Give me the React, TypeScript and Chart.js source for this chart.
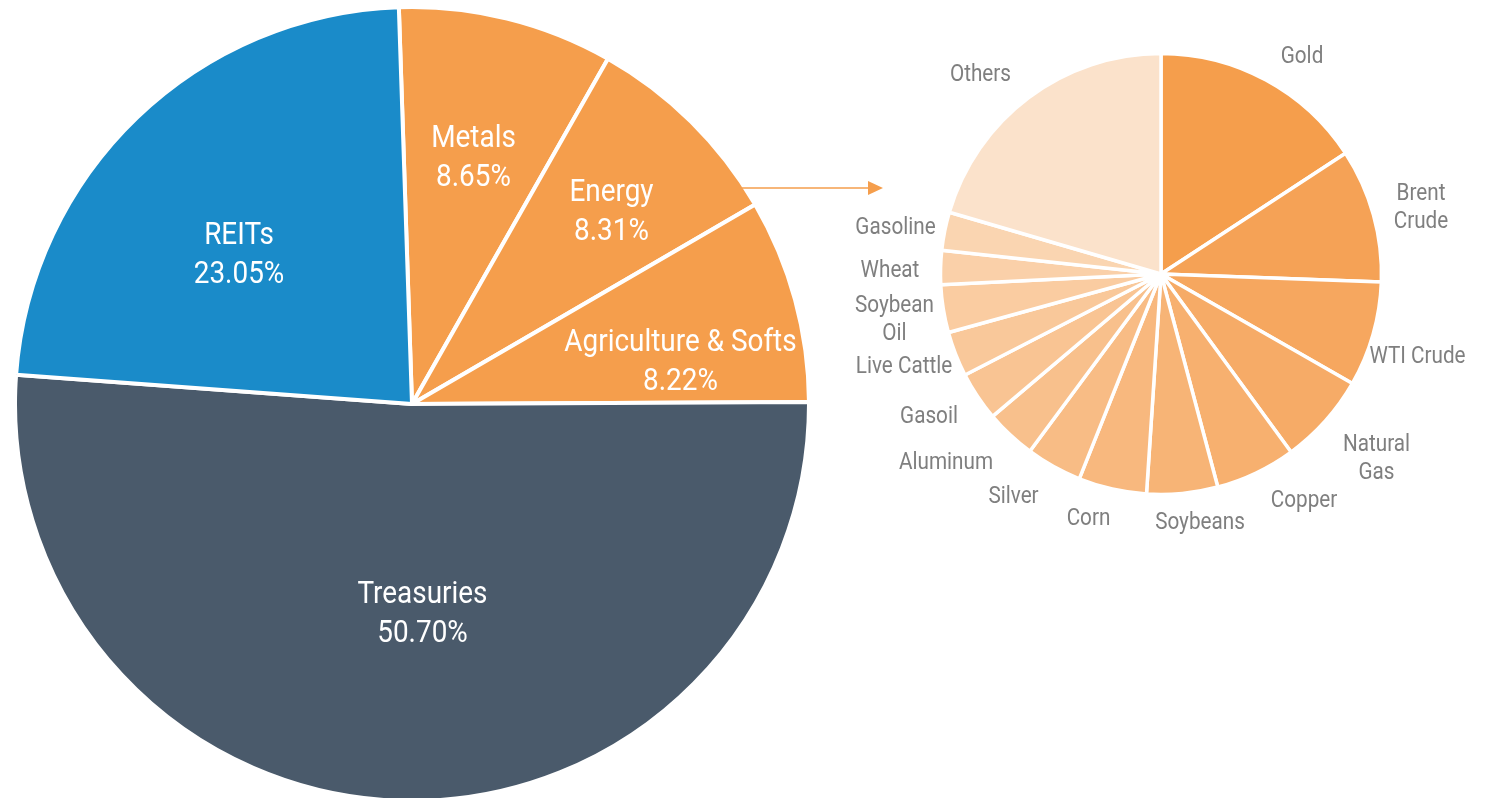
import React, { useEffect, useRef } from "react";
import { Chart, registerables } from "chart.js";

Chart.register(...registerables);

const W = 1488;
const H = 798;

// ---- Data: main allocation ----
const sectorLabels = ["Metals", "Energy", "Agriculture & Softs", "Treasuries", "REITs"];
const sectorValues = [8.65, 8.31, 8.22, 50.7, 23.05];
const sectorColors = ["#F59E4C", "#F59E4C", "#F59E4C", "#4A5A6B", "#1A8BC9"];

// ---- Data: commodity breakdown ----
const commodityLabels = [
  "Gold",
  "Brent Crude",
  "WTI Crude",
  "Natural Gas",
  "Copper",
  "Soybeans",
  "Corn",
  "Silver",
  "Aluminum",
  "Gasoil",
  "Live Cattle",
  "Soybean Oil",
  "Wheat",
  "Gasoline",
  "Others",
];
const commodityValues = [15.8, 9.8, 7.7, 6.7, 5.9, 5.2, 5.0, 4.1, 3.7, 3.6, 3.3, 3.5, 2.5, 2.8, 20.5];
const commodityColors = [
  "#F59E4C",
  "#F5A256",
  "#F6A75F",
  "#F6AB67",
  "#F7B06F",
  "#F7B476",
  "#F8B87E",
  "#F8BC85",
  "#F8C08C",
  "#F9C493",
  "#F9C89A",
  "#FACCA1",
  "#FAD0A9",
  "#FAD5B1",
  "#FBE2CB",
];

// ---- Layout (label anchors relative to each pie's centre: first-line baseline) ----
const sectorLabelLayout = [
  { dx: 61.5, dy: -257 },
  { dx: 199.5, dy: -203 },
  { dx: 268.5, dy: -53 },
  { dx: 10.5, dy: 199 },
  { dx: -173, dy: -160 },
];
const commodityLabelLayout = [
  { dx: 141, dy: -211, wrap: false },
  { dx: 260, dy: -74, wrap: true },
  { dx: 256.5, dy: 89, wrap: false },
  { dx: 215.5, dy: 177, wrap: true },
  { dx: 143, dy: 233, wrap: false },
  { dx: 39, dy: 255, wrap: false },
  { dx: -72.5, dy: 251, wrap: false },
  { dx: -147.5, dy: 229, wrap: false },
  { dx: -215, dy: 195, wrap: false },
  { dx: -232, dy: 149, wrap: false },
  { dx: -257, dy: 99, wrap: false },
  { dx: -266.5, dy: 38, wrap: true },
  { dx: -271, dy: 3, wrap: false },
  { dx: -265.5, dy: -40, wrap: false },
  { dx: -180.5, dy: -193, wrap: false },
];

const FONT_FAMILY = "Roboto, 'Noto Sans', 'DejaVu Sans', sans-serif";
const TEXT_SCALE_X = 0.9;

function drawText(ctx: CanvasRenderingContext2D, text: string, x: number, y: number) {
  ctx.save();
  ctx.translate(x, y);
  ctx.scale(TEXT_SCALE_X, 1);
  ctx.fillText(text, 0, 0);
  ctx.restore();
}

const sectorLabelPlugin = {
  id: "sectorLabels",
  afterDatasetsDraw(chart: any) {
    const ctx: CanvasRenderingContext2D = chart.ctx;
    const arcs = chart.getDatasetMeta(0).data;
    if (!arcs.length) return;
    const cx = arcs[0].x;
    const cy = arcs[0].y;
    ctx.save();
    ctx.font = `400 31px ${FONT_FAMILY}`;
    ctx.fillStyle = "#FFFFFF";
    ctx.textAlign = "center";
    ctx.textBaseline = "alphabetic";
    sectorLabels.forEach((lab, i) => {
      const p = sectorLabelLayout[i];
      drawText(ctx, lab, cx + p.dx, cy + p.dy);
      drawText(ctx, sectorValues[i].toFixed(2) + "%", cx + p.dx, cy + p.dy + 38.5);
    });
    // arrow from Energy slice to the breakdown pie
    const y = cy - 216;
    const x0 = cx + 330;
    const x1 = cx + 456;
    const x2 = cx + 471;
    ctx.strokeStyle = "#F59E4C";
    ctx.fillStyle = "#F59E4C";
    ctx.lineWidth = 1.6;
    ctx.beginPath();
    ctx.moveTo(x0, y);
    ctx.lineTo(x1 + 1, y);
    ctx.stroke();
    ctx.beginPath();
    ctx.moveTo(x1, y - 7);
    ctx.lineTo(x2, y);
    ctx.lineTo(x1, y + 7);
    ctx.closePath();
    ctx.fill();
    ctx.restore();
  },
};

const commodityLabelPlugin = {
  id: "commodityLabels",
  afterDatasetsDraw(chart: any) {
    const ctx: CanvasRenderingContext2D = chart.ctx;
    const arcs = chart.getDatasetMeta(0).data;
    if (!arcs.length) return;
    const cx = arcs[0].x;
    const cy = arcs[0].y;
    ctx.save();
    ctx.font = `400 23px ${FONT_FAMILY}`;
    ctx.fillStyle = "#7F7F7F";
    ctx.textAlign = "center";
    ctx.textBaseline = "alphabetic";
    commodityLabels.forEach((lab, i) => {
      const p = commodityLabelLayout[i];
      const lines = p.wrap ? lab.split(" ") : [lab];
      lines.forEach((t, j) => drawText(ctx, t, cx + p.dx, cy + p.dy + j * 28));
    });
    ctx.restore();
  },
};

export default function App() {
  const bigRef = useRef<HTMLCanvasElement | null>(null);
  const smallRef = useRef<HTMLCanvasElement | null>(null);

  useEffect(() => {
    document.body.style.margin = "0";
    const big = new Chart(bigRef.current as HTMLCanvasElement, {
      type: "pie",
      data: {
        labels: sectorLabels,
        datasets: [
          {
            data: sectorValues,
            backgroundColor: sectorColors,
            borderColor: "#FFFFFF",
            borderWidth: 4,
          },
        ],
      },
      options: {
        responsive: false,
        animation: false,
        rotation: -1.9,
        radius: 397,
        layout: { padding: { left: 0, right: W - 824, top: 10, bottom: 0 } },
        plugins: { legend: { display: false }, tooltip: { enabled: false } },
        events: [],
      } as any,
      plugins: [sectorLabelPlugin],
    });
    const small = new Chart(smallRef.current as HTMLCanvasElement, {
      type: "pie",
      data: {
        labels: commodityLabels,
        datasets: [
          {
            data: commodityValues,
            backgroundColor: commodityColors,
            borderColor: "#FFFFFF",
            borderWidth: 3.5,
          },
        ],
      },
      options: {
        responsive: false,
        animation: false,
        rotation: 0,
        radius: 220.5,
        layout: { padding: { left: 2 * 1161 - W, right: 0, top: 0, bottom: H - 548 } },
        plugins: { legend: { display: false }, tooltip: { enabled: false } },
        events: [],
      } as any,
      plugins: [commodityLabelPlugin],
    });
    return () => {
      big.destroy();
      small.destroy();
    };
  }, []);

  return (
    <div
      style={{
        position: "fixed",
        left: 0,
        top: 0,
        width: W,
        height: H,
        background: "#FFFFFF",
        overflow: "hidden",
      }}
    >
      <canvas
        ref={bigRef}
        width={W}
        height={H}
        style={{ position: "absolute", left: 0, top: 0, width: W, height: H }}
      />
      <canvas
        ref={smallRef}
        width={W}
        height={H}
        style={{ position: "absolute", left: 0, top: 0, width: W, height: H }}
      />
    </div>
  );
}
